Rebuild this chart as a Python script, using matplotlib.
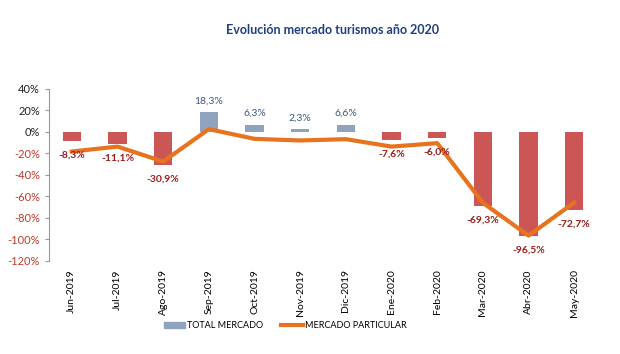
import matplotlib.pyplot as plt
import numpy as np
from matplotlib.patches import Patch
from matplotlib.lines import Line2D

plt.rcParams['font.family'] = ['Lato', 'DejaVu Sans']

months = ['Jun-2019', 'Jul-2019', 'Ago-2019', 'Sep-2019', 'Oct-2019', 'Nov-2019',
          'Dic-2019', 'Ene-2020', 'Feb-2020', 'Mar-2020', 'Abr-2020', 'May-2020']
total_mercado = [-8.3, -11.1, -30.9, 18.3, 6.3, 2.3, 6.6, -7.6, -6.0, -69.3, -96.5, -72.7]
mercado_particular = [-18.3, -13.7, -27.6, 2.5, -6.5, -8.0, -6.8, -13.7, -10.5, -66.0, -96.5, -65.7]
yticks = [40, 20, 0, -20, -40, -60, -80, -100, -120]

RED = '#CC5555'
BLUE = '#8FA3BF'
ORANGE = '#E8731E'

fig = plt.figure(figsize=(6.2, 3.54), dpi=100)
ax = fig.add_axes([0.079, 0.263, 0.884, 0.486])

x = np.arange(len(months))
cols = [BLUE if v >= 0 else RED for v in total_mercado]
ax.bar(x, total_mercado, width=0.4, color=cols, zorder=2)
ax.plot(x, mercado_particular, color=ORANGE, lw=3, zorder=3)

for xi, v in zip(x, total_mercado):
    txt = ('%.1f%%' % v).replace('.', ',')
    if v >= 0:
        ax.annotate(txt, (xi, v), xytext=(0, 5), textcoords='offset points',
                    ha='center', va='bottom', fontsize=7.5, color='#3F5A7F')
    else:
        ax.annotate(txt, (xi, v), xytext=(0, -7), textcoords='offset points',
                    ha='center', va='top', fontsize=7.5, color='#9E1B1B',
                    fontweight='bold', zorder=4)

ax.set_xlim(-0.5, len(months) - 0.5)
ax.set_ylim(-120, 40)
ax.set_yticks(yticks)
ax.set_yticklabels(['%d%%' % t for t in yticks], fontsize=8)
for lab, t in zip(ax.get_yticklabels(), yticks):
    lab.set_color('#222222' if t >= 0 else '#C0392B')
ax.set_xticks(x)
ax.set_xticklabels(months, rotation=90, fontsize=7.5)
ax.tick_params(axis='x', length=0, pad=6)
ax.tick_params(axis='y', length=3, color='#999999')
for s in ['top', 'right', 'bottom']:
    ax.spines[s].set_visible(False)
ax.spines['left'].set_color('#999999')

fig.text(0.537, 0.915, 'Evolución mercado turismos año 2020', ha='center',
         va='center', fontsize=9, fontweight='bold', color='#1F3F7F')

handles = [Patch(color=BLUE), Line2D([], [], color=ORANGE, lw=3)]
fig.legend(handles, ['TOTAL MERCADO', 'MERCADO PARTICULAR'], loc='center',
           bbox_to_anchor=(0.46, 0.08), ncol=2, frameon=False, fontsize=6.5,
           handlelength=2.4, columnspacing=2, handletextpad=0.2)

fig.savefig('out.png', dpi=100)
